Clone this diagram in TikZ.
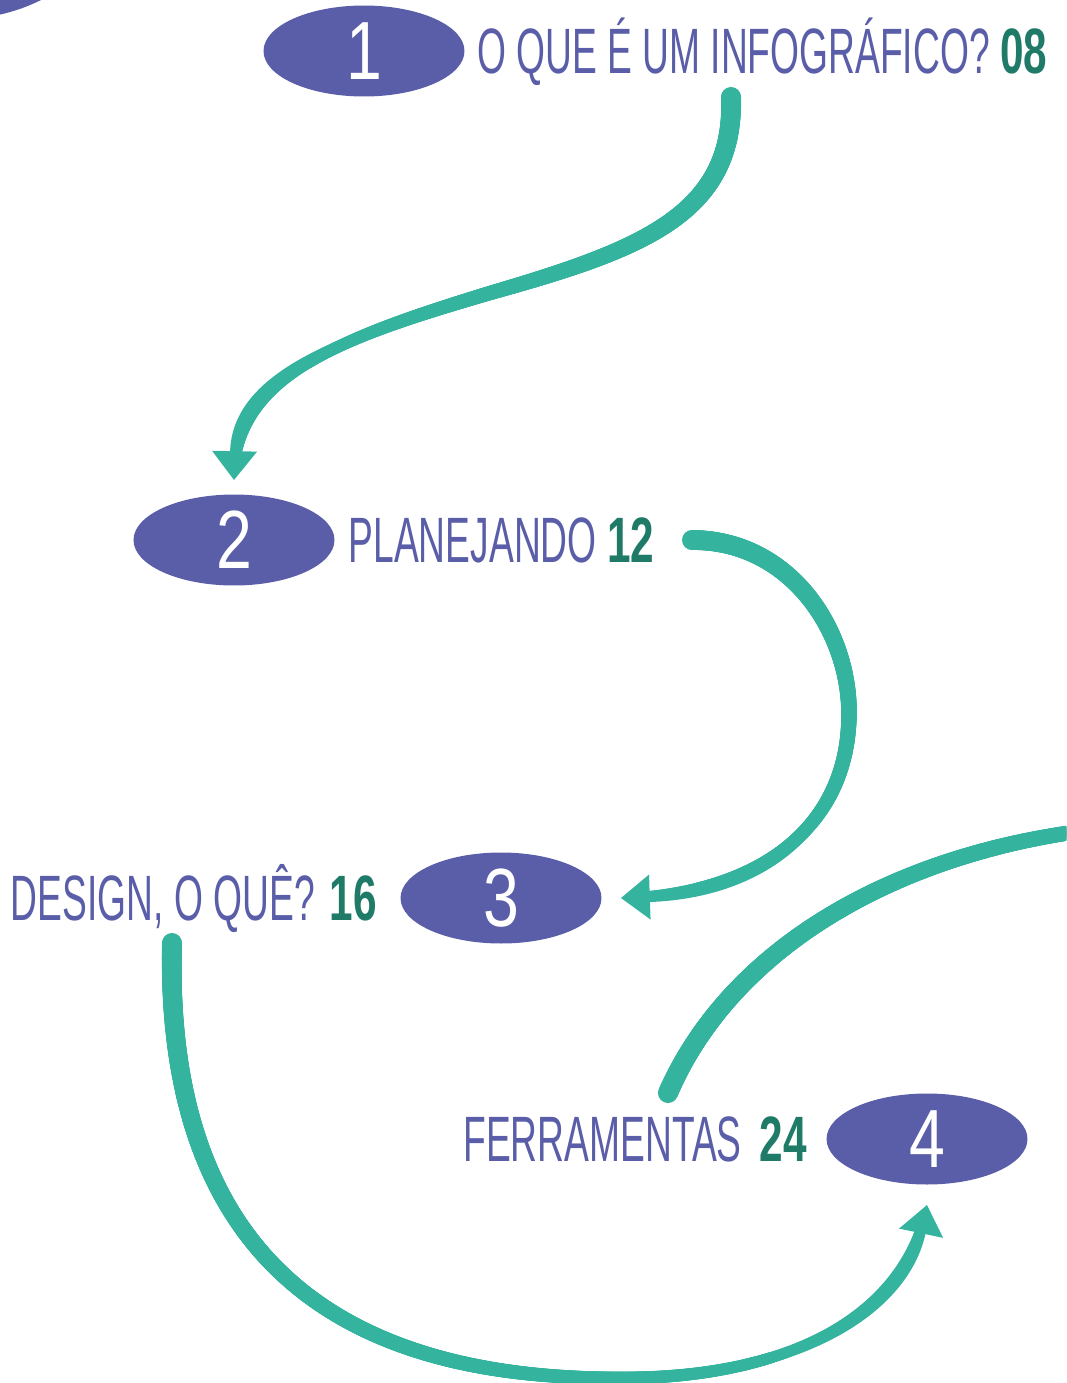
\documentclass[tikz,border=0pt]{standalone}
\usepackage{fontspec}
\usetikzlibrary{arrows.meta,decorations.markings,shapes.geometric,positioning,calc}
\newfontfamily\condfont[FakeStretch=0.58]{Liberation Sans}
\newfontfamily\numfont[FakeStretch=0.66]{Liberation Sans}
\newfontfamily\digitfont[FakeStretch=0.78]{Liberation Sans}
\definecolor{InfoPurple}{HTML}{5A5EA8}
\definecolor{InfoTeal}{HTML}{34B39E}
\definecolor{InfoGreen}{HTML}{1F7A68}
\newcommand{\pagenr}[1]{{\numfont\bfseries\color{InfoGreen}#1}}

\tikzset{
	badge/.style={ellipse, fill=InfoPurple, minimum width=4.02cm, minimum height=1.82cm, inner sep=0pt, text=white, font=\digitfont\fontsize{47}{47}\selectfont},
	chapter/.style={inner sep=0pt, text=InfoPurple, text height=26.1pt, text depth=0pt, font=\condfont\fontsize{36.5}{40}\selectfont},
	taper/.style n args={3}{decoration={markings, mark=between positions 0 and #3 step 0.6pt with {
				\pgfmathsetmacro{\tr}{0.5*(#1+(#2-#1)*\pgfkeysvalueof{/pgf/decoration/mark info/distance from start}/\pgfdecoratedpathlength)}
				\fill[InfoTeal] (0,0) circle (\tr pt);}}, decorate},
	connector/.style={draw=InfoTeal, line width=#1pt, -{Triangle[length=16.5pt,width=24.5pt]}}
}

\begin{document}
\begin{tikzpicture}[x=0.02cm, y=-0.02cm]
	\useasboundingbox (0,0) rectangle (1066,1383);
	\clip (0,0) rectangle (1066,1383);
	
	% disc of the previous page
	\fill[InfoPurple] (-40,-163) circle (182);
	
	\node[badge] (e1) at (364,51) {1};
	\node[chapter, right=0.24cm of e1] (t1) {O QUE É UM INFOGRÁFICO? \pagenr{08}};
	\node[badge] (e2) at (234,540) {2};
	\node[chapter, right=0.27cm of e2] (t2) {PLANEJANDO \pagenr{12}};
	\node[badge] (e3) at (501,898) {3};
	\node[chapter, left=0.46cm of e3] (t3) {DESIGN, O QUÊ?\hspace{0.3cm}\pagenr{16}};
	\node[badge] (e4) at (927,1139) {4};
	\node[chapter, left=0.38cm of e4] (t4) {FERRAMENTAS\hspace{0.36cm}\pagenr{24}};
	
	\coordinate (s1) at (731,97);
	\coordinate (s2) at (692,540);
	\coordinate (s3) at (172,943);
	\coordinate (s4) at (668,1093);
	\coordinate (x4) at (1075,832);
	
	\draw[connector=5.1, postaction={taper={11.4}{5.1}{-12pt}}] (s1) .. controls (735,215) and (640,250) .. (490,293)
	.. controls (340,338) and (236,375) .. ([yshift=0.28cm]e2.north);
	\draw[connector=5.7, postaction={taper={11.4}{5.7}{-12pt}}] (s2) .. controls (790,540) and (849,630) .. (849,713)
	.. controls (849,820) and (770,893) .. ([xshift=0.38cm]e3.east);
	\draw[connector=5.1, postaction={taper={11.4}{5.1}{-12pt}}] (s3) .. controls (165,1220) and (300,1380) .. (620,1378)
	.. controls (800,1378) and (905,1310) .. ([yshift=-0.4cm]e4.south);
	%\draw (t4) to (next);
	\path[taper={11.4}{8.5}{1}] (s4) .. controls (728,955) and (880,860) .. (x4);
\end{tikzpicture}
\end{document}
